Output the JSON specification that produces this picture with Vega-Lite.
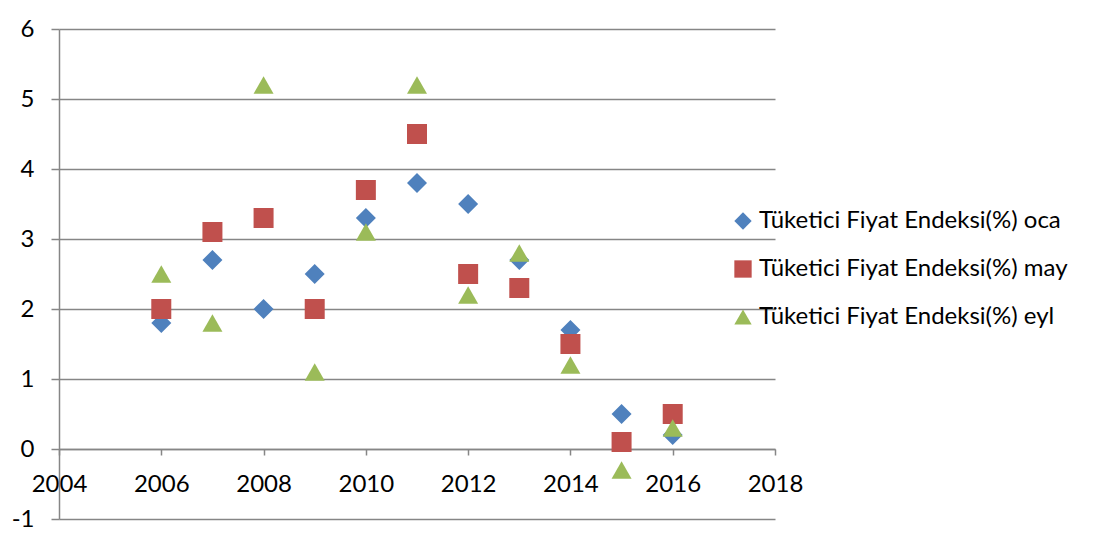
{
  "$schema": "https://vega.github.io/schema/vega-lite/v6.json",
  "width": 716,
  "height": 490,
  "autosize": "none",
  "padding": {"left": 59, "top": 29, "right": 330, "bottom": 20},
  "background": "white",
  "config": {
    "view": {"stroke": null},
    "font": "Lato",
    "axis": {"labelFont": "Lato", "labelFontSize": 24, "labelColor": "#000000", "domainColor": "#868686", "tickColor": "#868686", "gridColor": "#868686", "domainWidth": 1.5, "tickWidth": 1.5, "gridWidth": 1.5, "title": null},
    "legend": {"labelFont": "Lato", "labelFontSize": 24, "labelColor": "#000000", "padding": 0, "labelLimit": 0}
  },
  "data": {
    "values": [
      {"year": 2006, "series": "Tüketici Fiyat Endeksi(%) oca", "value": 1.8},
      {"year": 2007, "series": "Tüketici Fiyat Endeksi(%) oca", "value": 2.7},
      {"year": 2008, "series": "Tüketici Fiyat Endeksi(%) oca", "value": 2.0},
      {"year": 2009, "series": "Tüketici Fiyat Endeksi(%) oca", "value": 2.5},
      {"year": 2010, "series": "Tüketici Fiyat Endeksi(%) oca", "value": 3.3},
      {"year": 2011, "series": "Tüketici Fiyat Endeksi(%) oca", "value": 3.8},
      {"year": 2012, "series": "Tüketici Fiyat Endeksi(%) oca", "value": 3.5},
      {"year": 2013, "series": "Tüketici Fiyat Endeksi(%) oca", "value": 2.7},
      {"year": 2014, "series": "Tüketici Fiyat Endeksi(%) oca", "value": 1.7},
      {"year": 2015, "series": "Tüketici Fiyat Endeksi(%) oca", "value": 0.5},
      {"year": 2016, "series": "Tüketici Fiyat Endeksi(%) oca", "value": 0.2},
      {"year": 2006, "series": "Tüketici Fiyat Endeksi(%) may", "value": 2.0},
      {"year": 2007, "series": "Tüketici Fiyat Endeksi(%) may", "value": 3.1},
      {"year": 2008, "series": "Tüketici Fiyat Endeksi(%) may", "value": 3.3},
      {"year": 2009, "series": "Tüketici Fiyat Endeksi(%) may", "value": 2.0},
      {"year": 2010, "series": "Tüketici Fiyat Endeksi(%) may", "value": 3.7},
      {"year": 2011, "series": "Tüketici Fiyat Endeksi(%) may", "value": 4.5},
      {"year": 2012, "series": "Tüketici Fiyat Endeksi(%) may", "value": 2.5},
      {"year": 2013, "series": "Tüketici Fiyat Endeksi(%) may", "value": 2.3},
      {"year": 2014, "series": "Tüketici Fiyat Endeksi(%) may", "value": 1.5},
      {"year": 2015, "series": "Tüketici Fiyat Endeksi(%) may", "value": 0.1},
      {"year": 2016, "series": "Tüketici Fiyat Endeksi(%) may", "value": 0.5},
      {"year": 2006, "series": "Tüketici Fiyat Endeksi(%) eyl", "value": 2.5},
      {"year": 2007, "series": "Tüketici Fiyat Endeksi(%) eyl", "value": 1.8},
      {"year": 2008, "series": "Tüketici Fiyat Endeksi(%) eyl", "value": 5.2},
      {"year": 2009, "series": "Tüketici Fiyat Endeksi(%) eyl", "value": 1.1},
      {"year": 2010, "series": "Tüketici Fiyat Endeksi(%) eyl", "value": 3.1},
      {"year": 2011, "series": "Tüketici Fiyat Endeksi(%) eyl", "value": 5.2},
      {"year": 2012, "series": "Tüketici Fiyat Endeksi(%) eyl", "value": 2.2},
      {"year": 2013, "series": "Tüketici Fiyat Endeksi(%) eyl", "value": 2.8},
      {"year": 2014, "series": "Tüketici Fiyat Endeksi(%) eyl", "value": 1.2},
      {"year": 2015, "series": "Tüketici Fiyat Endeksi(%) eyl", "value": -0.3},
      {"year": 2016, "series": "Tüketici Fiyat Endeksi(%) eyl", "value": 0.3}
    ]
  },
  "mark": {"type": "point", "filled": true, "opacity": 1, "size": 400},
  "encoding": {
    "x": {
      "field": "year", "type": "quantitative",
      "scale": {"domain": [2004, 2018], "nice": false, "zero": false},
      "axis": {"values": [2004, 2006, 2008, 2010, 2012, 2014, 2016, 2018], "format": "d", "grid": false, "offset": -70, "tickSize": 6, "labelPadding": 17, "labelFlush": false, "labelOverlap": false}
    },
    "y": {
      "field": "value", "type": "quantitative",
      "scale": {"domain": [-1, 6], "nice": false, "zero": false},
      "axis": {"values": [-1, 0, 1, 2, 3, 4, 5, 6], "grid": true, "tickSize": 8, "labelPadding": 17, "labelFlush": false, "labelExpr": "datum.value < 0 ? '-' + abs(datum.value) : datum.label"}
    },
    "color": {
      "field": "series", "type": "nominal",
      "scale": {"domain": ["Tüketici Fiyat Endeksi(%) oca", "Tüketici Fiyat Endeksi(%) may", "Tüketici Fiyat Endeksi(%) eyl"], "range": ["#4F81BD", "#C0504D", "#9BBB59"]},
      "legend": {"title": null, "orient": "none", "legendX": 672, "legendY": 180, "rowPadding": 24, "labelOffset": 4, "symbolSize": 300}
    },
    "shape": {
      "field": "series", "type": "nominal",
      "scale": {"domain": ["Tüketici Fiyat Endeksi(%) oca", "Tüketici Fiyat Endeksi(%) may", "Tüketici Fiyat Endeksi(%) eyl"], "range": ["diamond", "square", "triangle-up"]},
      "legend": null
    }
  }
}
